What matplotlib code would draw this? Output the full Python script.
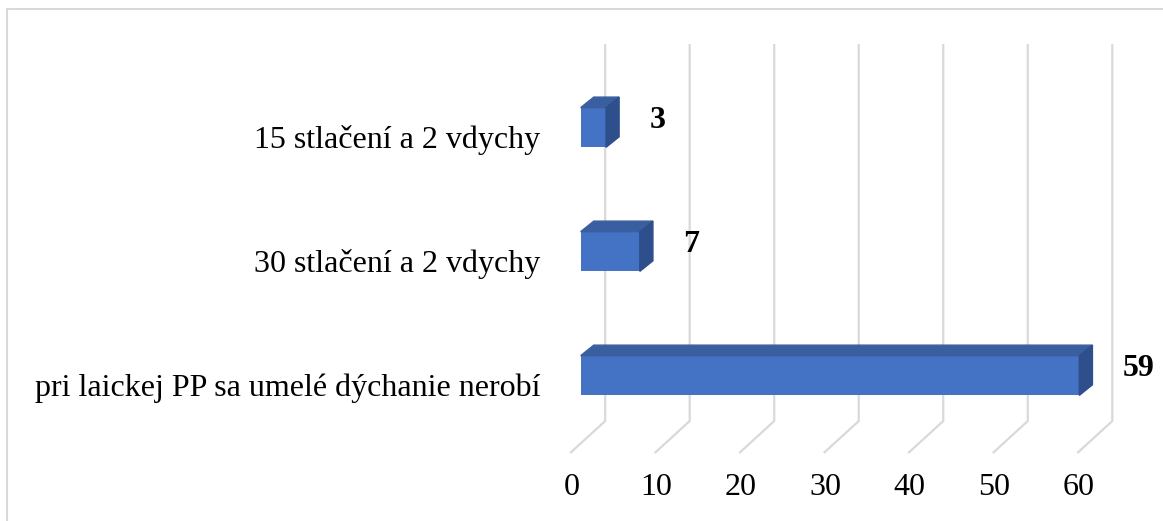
import matplotlib.pyplot as plt
from matplotlib.patches import Polygon, Rectangle

# data
categories = ["pri laickej PP sa umelé dýchanie nerobí",
              "30 stlačení a 2 vdychy",
              "15 stlačení a 2 vdychy"]
values = [59, 7, 3]
ticks = [0, 10, 20, 30, 40, 50, 60]

# colours
front_col = "#4472C4"
top_col = "#3A5FA0"
side_col = "#2E4E8C"
grid_col = "#D9D9D9"

plt.rcParams['font.family'] = ['Liberation Serif', 'DejaVu Serif']
fs = 23

fig = plt.figure(figsize=(11.63, 5.21), dpi=100)
ax = fig.add_axes([0, 0, 1, 1])
ax.set_xlim(-68.7, 68.9)
ax.set_ylim(-1.173, 3.028)
ax.axis('off')

# fake 3d geometry (oblique projection)
bar_h = 0.32          # height of the front face
bar_dx, bar_dy = 1.55, 0.085     # depth of the bars
wall_dx, wall_dy = 2.9, 0.18     # bar front plane -> back wall
full_dx, full_dy = 4.14, 0.258   # floor front -> back wall
wall_bot, wall_top = -0.367, 2.673

# gridlines: vertical on back wall + diagonal on floor
for t in ticks:
    xb = t + wall_dx
    ax.plot([xb - full_dx, xb, xb], [wall_bot - full_dy, wall_bot, wall_top],
            color=grid_col, lw=1.6, zorder=1, solid_capstyle='butt')
    ax.annotate(str(t), (xb - full_dx, wall_bot - full_dy), xytext=(1, -25),
                textcoords='offset points', ha='center', va='center', fontsize=fs)

# bars
for i, (cat, v) in enumerate(zip(categories, values)):
    y0, y1 = i - bar_h / 2, i + bar_h / 2
    ax.barh(i, v, height=bar_h, left=0, color=front_col, zorder=3)
    top = Polygon([(0, y1), (v, y1), (v + bar_dx, y1 + bar_dy), (bar_dx, y1 + bar_dy)],
                  closed=True, color=top_col, zorder=3)
    side = Polygon([(v, y0), (v, y1), (v + bar_dx, y1 + bar_dy), (v + bar_dx, y0 + bar_dy)],
                   closed=True, color=side_col, zorder=3)
    ax.add_patch(top)
    ax.add_patch(side)
    ax.annotate(str(v), (v + bar_dx, i), xytext=(22, 5), textcoords='offset points',
                ha='left', va='center', fontsize=fs, fontweight='bold')
    ax.annotate(cat, (0, i), xytext=(-29, -9), textcoords='offset points',
                ha='right', va='center', fontsize=fs)

# chart border
fig.patches.append(Rectangle((7 / 1163, -0.05), 1.1, 1 - 9 / 521 + 0.05,
                             transform=fig.transFigure, fill=False,
                             edgecolor=grid_col, lw=1.5))

fig.savefig("out.png", dpi=100)
